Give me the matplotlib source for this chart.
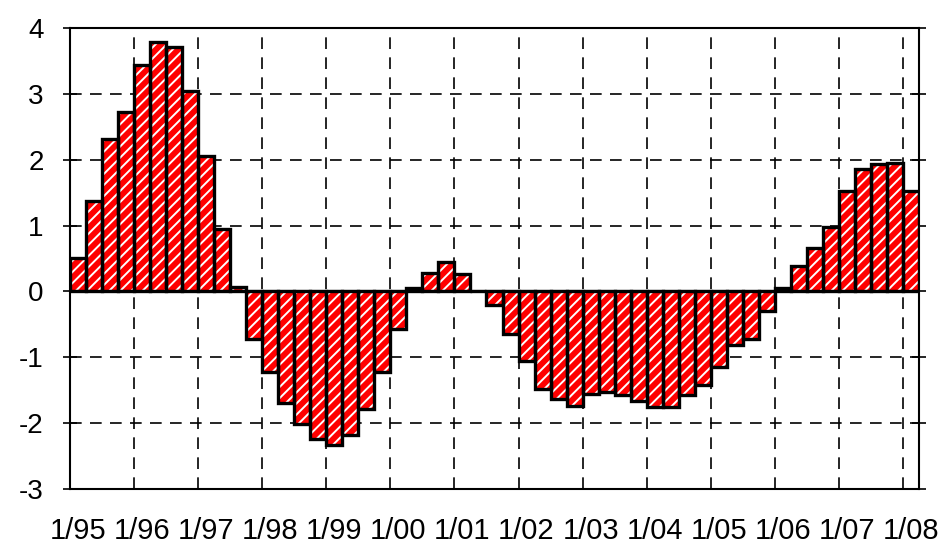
import matplotlib
matplotlib.use("Agg")
import matplotlib.pyplot as plt
import numpy as np

# quarterly values, 1/95 .. 1/08
values = [0.51, 1.37, 2.31, 2.72, 3.44, 3.78, 3.71, 3.04,
          2.06, 0.95, 0.07, -0.72, -1.23, -1.69, -2.02, -2.24,
          -2.33, -2.18, -1.78, -1.23, -0.57, 0.05, 0.28, 0.44,
          0.26, 0.0, -0.21, -0.64, -1.05, -1.48, -1.63, -1.74,
          -1.55, -1.52, -1.58, -1.67, -1.75, -1.75, -1.58, -1.42,
          -1.14, -0.81, -0.72, -0.29, 0.05, 0.39, 0.66, 0.98,
          1.53, 1.86, 1.94, 1.95, 1.53]
year_labels = ['1/95', '1/96', '1/97', '1/98', '1/99', '1/00', '1/01',
               '1/02', '1/03', '1/04', '1/05', '1/06', '1/07', '1/08']
y_ticks = [-3, -2, -1, 0, 1, 2, 3, 4]

plt.rcParams['font.family'] = ['Liberation Sans', 'DejaVu Sans']
plt.rcParams['hatch.linewidth'] = 1.4

fig = plt.figure(figsize=(9.45, 5.48), dpi=100)
ax = fig.add_axes([70 / 945, 59 / 548, 849 / 945, 461 / 548])

x = np.arange(len(values))
ax.bar(x, values, width=1.0, align='edge', color='red', edgecolor='white',
       hatch='///', linewidth=0, zorder=2)
ax.bar(x, values, width=1.0, align='edge', fill=False, edgecolor='black',
       linewidth=2.4, zorder=3)
ax.axhline(0, color='black', linewidth=1.5, zorder=4)

ax.set_xlim(0, len(values))
ax.set_ylim(-3, 4)

year_pos = np.arange(len(year_labels)) * 4
ax.set_xticks(year_pos)
ax.set_xticklabels([])
ax.set_xticks(year_pos + 0.5, minor=True)
ax.set_xticklabels(year_labels, minor=True, fontsize=21)
ax.tick_params(axis='x', which='both', length=0)
ax.tick_params(axis='x', which='minor', pad=20)

ax.set_yticks(y_ticks)
ax.set_yticklabels([str(v) for v in y_ticks], fontsize=20)
ax.tick_params(axis='y', direction='inout', length=10, width=1.2, pad=14,
               right=True)

ax.grid(True, which='major', color='black', linestyle=(0, (7, 5)),
        linewidth=1.2, zorder=1)
ax.set_axisbelow(True)
for s in ax.spines.values():
    s.set_linewidth(1.5)

fig.savefig('out.png', dpi=100)
